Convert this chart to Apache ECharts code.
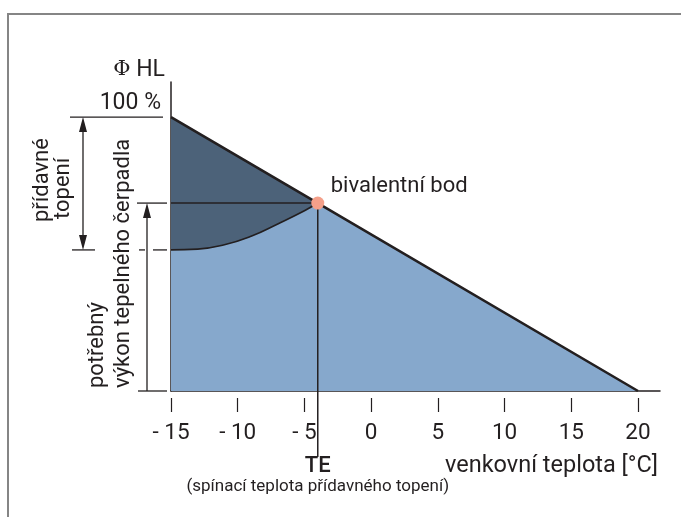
<!DOCTYPE html>
<html>
<head>
<meta charset="utf-8">
<script src="https://cdn.jsdelivr.net/npm/echarts@6/dist/echarts.min.js"></script>
<style>
  html, body { margin: 0; padding: 0; background: #ffffff; }
  #main { width: 681px; height: 517px; }
</style>
</head>
<body>
<div id="main"></div>
<script>
// Heating demand line: 100 % at -15 °C falling to 0 at +20 °C
const demandTemps = [-15, -4, 20];
const demandValues = [100, 68.6, 0];

// Heat pump output curve up to the bivalent point
const pumpTemps = [-15, -13, -11, -9, -7, -5, -4];
const pumpValues = [51.5, 51.8, 53.4, 56.5, 61.0, 65.8, 68.6];

// Bivalent point (switch-on temperature TE of the auxiliary heating)
const bivalentTemp = -4;
const bivalentValue = 68.6;

// X axis ticks and their labels
const xTicks = [-15, -10, -5, 0, 5, 10, 15, 20];
const xTickLabels = ['- 15', '- 10', '- 5', '0', '5', '10', '15', '20'];

const INK = '#231f20';
const DARK = '#4c6279';
const LIGHT = '#86a8cc';
const POINT = '#f4a08a';
const FONT = 'Roboto, "Liberation Sans", sans-serif';

const pairs = (xs, ys) => xs.map((x, i) => [x, ys[i]]);
const demandData = pairs(demandTemps, demandValues);
const pumpData = pairs(pumpTemps, pumpValues);
const auxData = demandData.filter(p => p[0] <= bivalentTemp);

const chart = echarts.init(document.getElementById('main'), null, { renderer: 'canvas' });

const option = {
  animation: false,
  backgroundColor: '#ffffff',
  grid: { left: 171, right: 21, top: 82, bottom: 126 },
  xAxis: [
    {
      type: 'value', min: -15, max: 21.65, position: 'bottom',
      axisLine: { show: true, onZero: false, lineStyle: { color: INK, width: 1.5 } },
      axisTick: { show: false }, axisLabel: { show: false }, splitLine: { show: false }
    },
    {
      type: 'value', min: -15, max: 21.65, position: 'bottom', offset: 7,
      axisLine: { show: false, onZero: false },
      axisTick: { show: true, customValues: xTicks, length: 14, lineStyle: { color: INK, width: 1.2 } },
      axisLabel: {
        show: true, customValues: xTicks, margin: 24,
        color: INK, fontFamily: FONT, fontSize: 22.5,
        formatter: v => xTickLabels[xTicks.indexOf(v)]
      },
      splitLine: { show: false }
    }
  ],
  yAxis: {
    type: 'value', min: 0, max: 112.8,
    axisLine: { show: true, onZero: false, lineStyle: { color: INK, width: 1.5 } },
    axisTick: { show: false }, axisLabel: { show: false }, splitLine: { show: false }
  },
  series: [
    {
      name: 'demand area', type: 'line', data: demandData, symbol: 'none',
      lineStyle: { width: 0 }, areaStyle: { color: LIGHT, opacity: 1 }, z: 1
    },
    {
      name: 'auxiliary heating', type: 'line', data: auxData, symbol: 'none',
      lineStyle: { width: 0 }, areaStyle: { color: DARK, opacity: 1 }, z: 2
    },
    {
      name: 'heat pump output', type: 'line', data: pumpData, symbol: 'none',
      smooth: 0.5,
      lineStyle: { color: INK, width: 1.7 }, areaStyle: { color: LIGHT, opacity: 1 }, z: 3
    },
    {
      name: 'bivalent level', type: 'line', symbol: 'none',
      data: [[-15, bivalentValue], [bivalentTemp, bivalentValue]],
      lineStyle: { color: INK, width: 1.5 }, z: 4
    },
    {
      name: 'TE guide', type: 'line', symbol: 'none',
      data: [[bivalentTemp, bivalentValue], [bivalentTemp, 0]],
      lineStyle: { color: INK, width: 1.5 }, z: 4
    },
    {
      name: 'demand line', type: 'line', data: demandData, symbol: 'none',
      lineStyle: { color: INK, width: 2.6 }, z: 5
    },
    {
      name: 'bivalentní bod', type: 'scatter', data: [[bivalentTemp, bivalentValue]],
      symbol: 'circle', symbolSize: 13, itemStyle: { color: POINT, opacity: 1 }, z: 6
    }
  ]
};
chart.setOption(option);

// Annotations on the left and below the axis, positioned from the axis scales
const xp = v => chart.convertToPixel({ xAxisIndex: 0 }, v);
const yp = v => chart.convertToPixel({ yAxisIndex: 0 }, v);
const y100 = yp(100), yBiv = yp(bivalentValue), yPump0 = yp(pumpValues[0]), y0 = yp(0);
const xTE = xp(bivalentTemp);

const seg = (x1, y1, x2, y2, w) => ({
  type: 'line', shape: { x1, y1, x2, y2 }, style: { stroke: INK, lineWidth: w || 1.3 }, z: 10
});
const head = (x, y, dir) => ({
  type: 'polygon', z: 10,
  shape: { points: [[x, y], [x - 4, y + dir * 15], [x + 4, y + dir * 15]] },
  style: { fill: INK }
});
const txt = (x, y, text, o) => ({
  type: 'text', x, y, z: 10,
  style: Object.assign({ text, fill: INK, font: '23px ' + FONT, align: 'left', verticalAlign: 'middle' }, o || {})
});
const rtxt = (x, y, text) => ({
  type: 'text', x, y, rotation: Math.PI / 2, z: 10,
  style: { text, fill: INK, font: '22px ' + FONT, align: 'left', verticalAlign: 'middle' }
});

const graphics = [
  { type: 'rect', shape: { x: 8, y: 14, width: 700, height: 540 },
    style: { fill: 'none', stroke: '#858585', lineWidth: 2 }, z: 0 },
  // Φ HL axis caption and 100 % mark
  { type: 'text', x: 165, y: 70, z: 10,
    style: { rich: { f: { fontFamily: '"DejaVu Serif", serif', fontSize: 21, fill: INK },
                     t: { fontFamily: FONT, fontSize: 23, fill: INK } },
             text: '{f|Φ}{t| HL}', align: 'right', verticalAlign: 'middle' } },
  txt(161, y100 - 14, '100 %', { align: 'right' }),
  seg(70, y100, 163, y100),
  // auxiliary heating span
  seg(83, y100 + 12, 83, yPump0 - 12),
  head(83, y100, 1), head(83, yPump0, -1),
  seg(72, yPump0, 95, yPump0),
  seg(139, yPump0, 145, yPump0), seg(153, yPump0, 167, yPump0),
  rtxt(42, 222, 'přídavné'), rtxt(63, 219, 'topení'),
  // heat pump output span
  seg(147, yBiv + 12, 147, y0),
  head(147, yBiv, 1),
  seg(137, yBiv, 167, yBiv), seg(138, y0, 167, y0),
  rtxt(97, 388, 'potřebný'), rtxt(123, 388, 'výkon tepelného čerpadla'),
  // bivalent point caption
  txt(xTE + 13, yBiv - 17, 'bivalentní bod', { font: '22px ' + FONT }),
  // TE mark below the axis
  seg(xTE, y0, xTE, y0 + 66, 1.5),
  txt(xTE, 466, 'TE', { align: 'center', font: '500 22px ' + FONT }),
  txt(xTE, 487, '(spínací teplota přídavného topení)', { align: 'center', font: '17px ' + FONT }),
  txt(658, 466, 'venkovní teplota [°C]', { align: 'right', font: '23.5px ' + FONT })
];
chart.setOption({ graphic: graphics });
</script>
</body>
</html>
